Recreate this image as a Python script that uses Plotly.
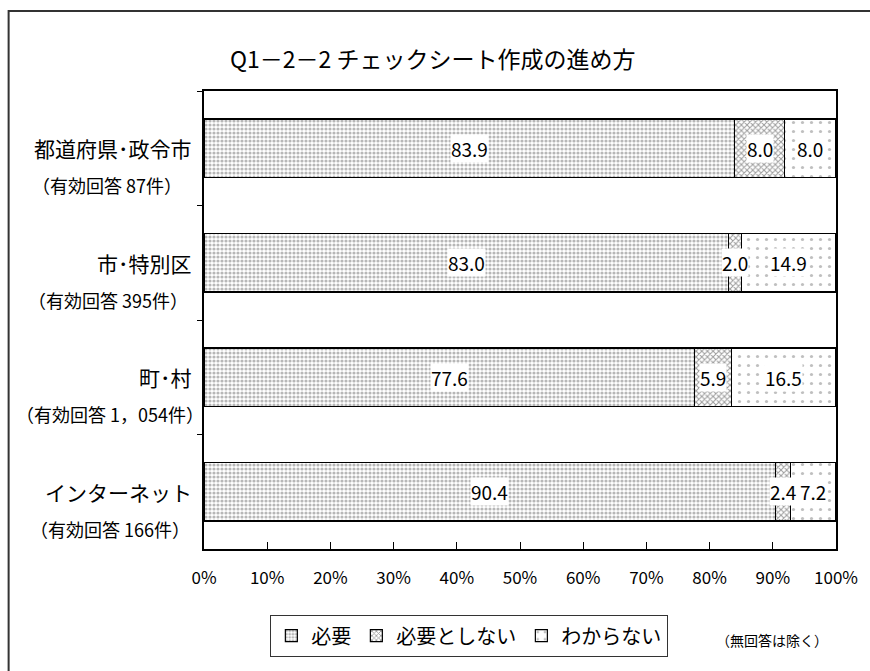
import plotly.graph_objects as go

# Respondent groups (top to bottom) and their sample-size notes
groups = ["都道府県･政令市", "市･特別区", "町･村", "インターネット"]
group_notes = ["（有効回答 87件）", "（有効回答 395件）", "（有効回答 1，054件）", "（有効回答 166件）"]

# Answer shares (%)
series_names = ["必要", "必要としない", "わからない"]
need = [83.9, 83.0, 77.6, 90.4]
not_need = [8.0, 2.0, 5.9, 2.4]
unknown = [8.0, 14.9, 16.5, 7.2]

x_ticks = [0, 10, 20, 30, 40, 50, 60, 70, 80, 90, 100]
x_tick_labels = [f"{v}%" for v in x_ticks]

title_text = "Q1－2－2 チェックシート作成の進め方"
note_text = "（無回答は除く）"

FONT = "Noto Sans CJK JP"

styles = [
    dict(shape=".", fgcolor="#6f6f6f", bgcolor="white", size=4, solidity=0.5),
    dict(shape="x", fgcolor="#3a3a3a", bgcolor="white", size=4, solidity=0.45),
    dict(shape=".", fgcolor="#808080", bgcolor="white", size=9, solidity=0.1),
]

fig = go.Figure()
for name, vals, pat in zip(series_names, [need, not_need, unknown], styles):
    fig.add_trace(go.Bar(
        y=groups, x=vals, name=name, orientation="h",
        marker=dict(color="white", pattern=pat, line=dict(color="black", width=1.2)),
        width=0.51,
    ))

# Value labels centred on each segment, on a white box
annotations = []
for i, g in enumerate(groups):
    left = 0.0
    for vals in (need, not_need, unknown):
        v = vals[i]
        annotations.append(dict(
            x=left + v / 2, y=g, xref="x", yref="y", text=f"{v:.1f}",
            showarrow=False, bgcolor="white", borderpad=0,
            font=dict(family=FONT, size=19, color="black"),
        ))
        left += v

# Two-line category labels on the left
note_shift = [-20, -14, 2, -12]
for g, note, ns in zip(groups, group_notes, note_shift):
    annotations.append(dict(
        x=0, y=g, xref="paper", yref="y", text=g, showarrow=False,
        xanchor="right", yanchor="middle", xshift=-10, yshift=0,
        font=dict(family=FONT, size=21, color="black"),
    ))
    annotations.append(dict(
        x=0, y=g, xref="paper", yref="y", text=note, showarrow=False,
        xanchor="right", yanchor="middle", xshift=ns, yshift=-37,
        font=dict(family=FONT, size=18, color="black"),
    ))

annotations.append(dict(
    x=(228 - 204) / 634, y=(549 - 58) / 458, xref="paper", yref="paper",
    text=title_text, showarrow=False, xanchor="left", yanchor="middle",
    font=dict(family=FONT, size=23, color="black"),
))

annotations.append(dict(
    x=(774 - 204) / 634, y=(549 - 640) / 458, xref="paper", yref="paper",
    text=note_text, showarrow=False, xanchor="center", yanchor="middle",
    font=dict(family=FONT, size=14, color="black"),
))

# Outer frame around the whole chart
shapes = [dict(
    type="rect", xref="paper", yref="paper",
    x0=(8 - 204) / 634, x1=(880 - 204) / 634,
    y0=(549 - 690) / 458, y1=(549 - 11) / 458,
    line=dict(color="#333333", width=2), fillcolor="rgba(0,0,0,0)", layer="below",
)]

fig.update_layout(
    width=870, height=671,
    margin=dict(l=204, r=32, t=91, b=122),
    paper_bgcolor="white", plot_bgcolor="white",
    barmode="stack", bargap=0.49,
    font=dict(family=FONT, color="black"),
    annotations=annotations, shapes=shapes,
    showlegend=True,
    legend=dict(
        orientation="h", x=(470 - 204) / 634, y=(549 - 636) / 458,
        xanchor="center", yanchor="middle",
        bordercolor="#333333", borderwidth=1.2, bgcolor="white",
        font=dict(family=FONT, size=20, color="black"),
        itemwidth=30, tracegroupgap=0, traceorder="normal",
    ),
    xaxis=dict(
        range=[0, 100], tickvals=x_ticks, ticktext=x_tick_labels,
        showgrid=False, zeroline=False,
        ticks="inside", ticklen=7, tickcolor="black", tickwidth=1,
        showline=True, linecolor="black", linewidth=1.5, mirror=True,
        tickfont=dict(family=FONT, size=17, color="black"),
        ticklabelstandoff=13,
    ),
    yaxis=dict(
        categoryorder="array", categoryarray=groups, autorange="reversed",
        showticklabels=False, showgrid=False, zeroline=False,
        ticks="outside", ticklen=5, tickcolor="black", tickson="boundaries",
        showline=True, linecolor="black", linewidth=1.5, mirror=True,
    ),
)

fig.write_html("out.html")
